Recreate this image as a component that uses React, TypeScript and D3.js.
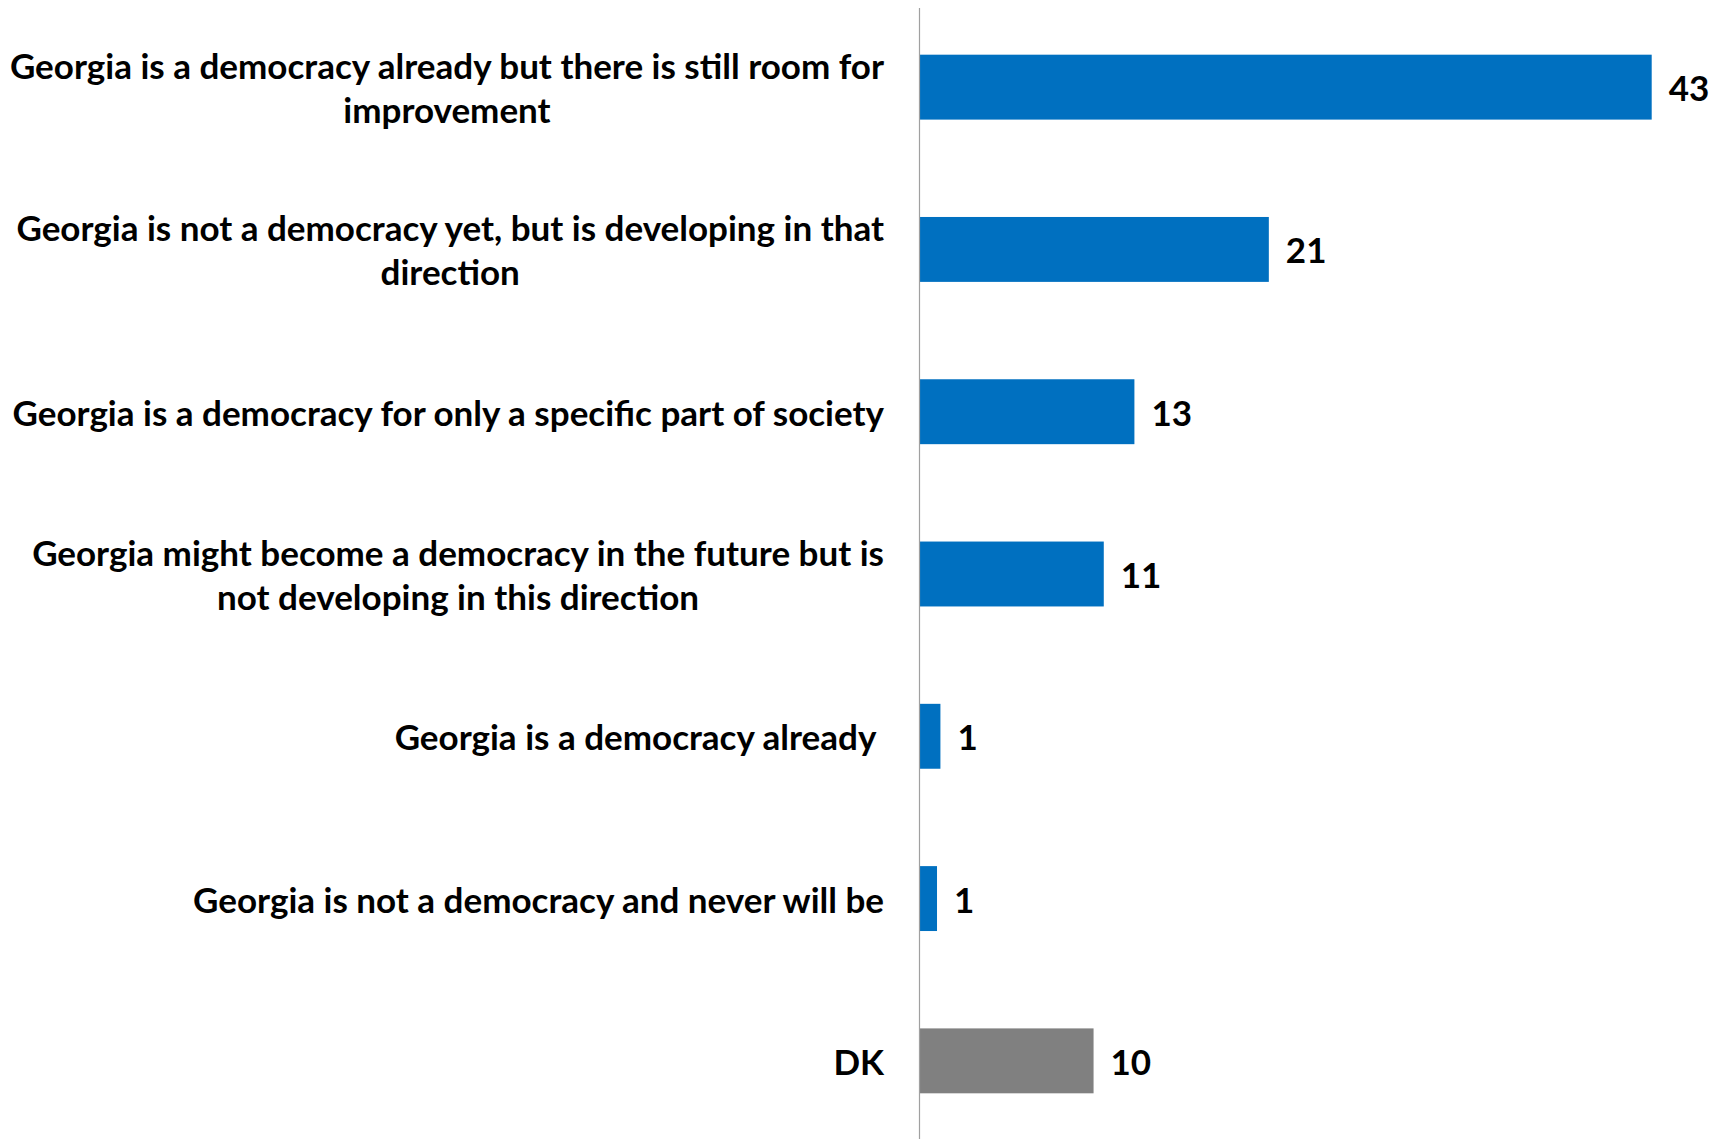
import React, { useEffect, useRef } from "react";
import * as d3 from "d3";

const categories = [
  "Georgia is a democracy already but there is still room for improvement",
  "Georgia is not a democracy yet, but is developing in that direction",
  "Georgia is a democracy for only a specific part of society",
  "Georgia might become a democracy in the future but is not developing in this direction",
  "Georgia is a democracy already",
  "Georgia is not a democracy and never will be",
  "DK",
];

const labelLines = [
  ["Georgia is a democracy already but there is still room for", "improvement"],
  ["Georgia is not a democracy yet, but is developing in that", "direction"],
  ["Georgia is a democracy for only a specific part of society"],
  ["Georgia might become a democracy in the future but is", "not developing in this direction"],
  ["Georgia is a democracy already "],
  ["Georgia is not a democracy and never will be"],
  ["DK"],
];

const values = [43, 20.5, 12.6, 10.8, 1.2, 1.0, 10.2];

const barColors = ["#0070C0", "#0070C0", "#0070C0", "#0070C0", "#0070C0", "#0070C0", "#808080"];

const W = 1721;
const H = 1139;
const FONT = "Lato, 'Open Sans', sans-serif";
const FS = 35;

export default function App() {
  const ref = useRef<SVGSVGElement>(null);

  useEffect(() => {
    const svg = d3.select(ref.current);
    svg.selectAll("*").remove();

    const y = d3
      .scaleBand<string>()
      .domain(categories)
      .range([6, 1142])
      .paddingInner(0.6)
      .paddingOuter(0.3);
    const x = d3.scaleLinear().domain([0, 43]).range([920, 1651.7]);

    // bars
    svg
      .append("g")
      .selectAll("rect")
      .data(values)
      .join("rect")
      .attr("x", x(0))
      .attr("y", (_, i) => y(categories[i])!)
      .attr("width", (d) => x(d) - x(0))
      .attr("height", y.bandwidth())
      .attr("fill", (_, i) => barColors[i]);

    // axis line
    svg
      .append("line")
      .attr("x1", x(0) - 0.5)
      .attr("x2", x(0) - 0.5)
      .attr("y1", 8)
      .attr("y2", H)
      .attr("stroke", "#A0A0A0")
      .attr("stroke-width", 1.2);

    // value labels
    svg
      .append("g")
      .selectAll("text")
      .data(values)
      .join("text")
      .attr("x", (d) => x(d) + 17)
      .attr("y", (_, i) => y(categories[i])! + y.bandwidth() / 2)
      .attr("dy", "0.4em")
      .attr("font-family", FONT)
      .attr("font-weight", 700)
      .attr("font-size", FS)
      .attr("fill", "#000")
      .text((d) => String(Math.round(d)));

    // category labels, right-aligned block with centered lines
    const rightEdge = 884;
    const lineH = 44;
    const lg = svg.append("g");
    labelLines.forEach((lines, i) => {
      const cy = y(categories[i])! + y.bandwidth() / 2;
      const t = lg
        .append("text")
        .attr("font-family", FONT)
        .attr("font-weight", 700)
        .attr("font-size", FS)
        .attr("fill", "#000")
        .attr("text-anchor", "middle")
        .style("white-space", "pre");
      const spans = lines.map((ln, j) =>
        t
          .append("tspan")
          .attr("y", cy + (j - (lines.length - 1) / 2) * lineH)
          .attr("dy", "0.4em")
          .text(ln)
      );
      const widths = spans.map((s) => (s.node() as SVGTSpanElement).getComputedTextLength());
      const maxW = d3.max(widths) || 0;
      spans.forEach((s) => s.attr("x", rightEdge - maxW / 2));
    });
  }, []);

  return (
    <svg
      ref={ref}
      width={W}
      height={H}
      style={{ position: "absolute", left: 0, top: 0, background: "#fff" }}
    />
  );
}
